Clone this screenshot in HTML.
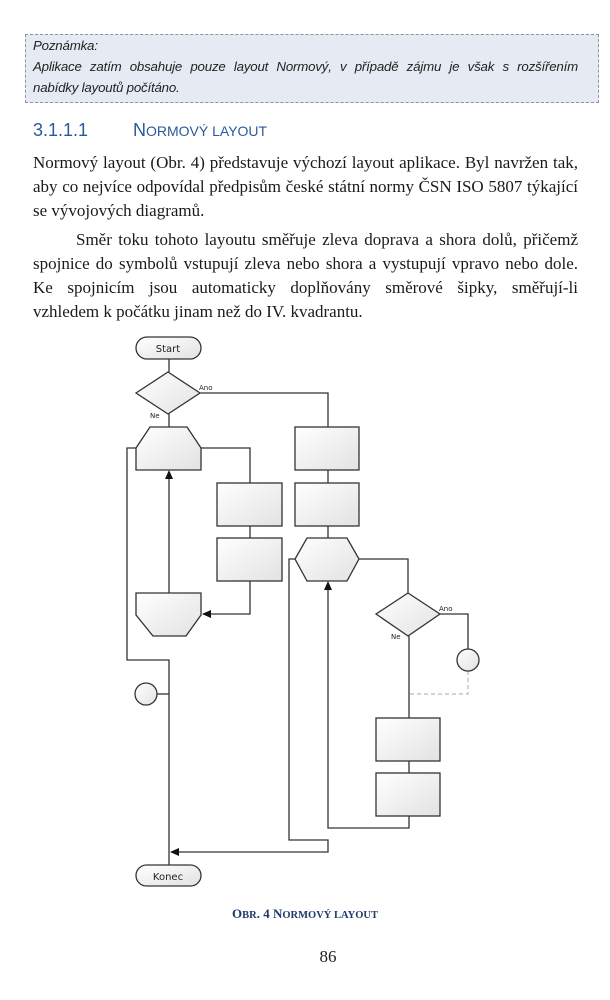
<!DOCTYPE html>
<html><head><meta charset="utf-8"><style>
body{margin:0;width:610px;height:1000px;background:#fff;position:relative;overflow:hidden}
.l{position:absolute;white-space:nowrap}
.j{position:absolute;left:33px;width:545px;text-align:justify;text-align-last:justify;font-family:"Liberation Serif",serif;font-size:17px;color:#1a1a1a;white-space:nowrap;line-height:20px}
.n{position:absolute;left:33px;width:545px;font-family:"Liberation Sans",sans-serif;font-style:italic;font-size:13.3px;color:#222;line-height:18px;letter-spacing:-0.2px}
</style></head><body>
<div style="position:absolute;left:25px;top:34px;width:572px;height:67px;background:#e6ebf3;border:1px dashed #8a93a0"></div>
<div class="n" style="top:37px">Poznámka:</div>
<div class="n" style="top:58px;text-align:justify;text-align-last:justify">Aplikace zatím obsahuje pouze layout Normový, v případě zájmu je však s rozšířením</div>
<div class="n" style="top:79px">nabídky layoutů počítáno.</div>
<div class="l" style="left:33px;top:120px;font-family:'Liberation Sans',sans-serif;font-size:18px;color:#2a5a9a">3.1.1.1</div>
<div class="l" style="left:133px;top:120px;font-family:'Liberation Sans',sans-serif;font-size:18px;color:#2a5a9a">N<span style="font-size:14px">ORMOVÝ LAYOUT</span></div>
<div class="j" style="top:153px">Normový layout (Obr. 4) představuje výchozí layout aplikace. Byl navržen tak,</div>
<div class="j" style="top:177px">aby co nejvíce odpovídal předpisům české státní normy ČSN ISO 5807 týkající</div>
<div class="j" style="top:201px;text-align-last:left">se vývojových diagramů.</div>
<div class="j" style="top:230px;left:76px;width:502px">Směr toku tohoto layoutu směřuje zleva doprava a shora dolů, přičemž</div>
<div class="j" style="top:254px">spojnice do symbolů vstupují zleva nebo shora a vystupují vpravo nebo dole.</div>
<div class="j" style="top:278px">Ke spojnicím jsou automaticky doplňovány směrové šipky, směřují-li</div>
<div class="j" style="top:302px;text-align-last:left">vzhledem k počátku jinam než do IV. kvadrantu.</div>

<svg style="position:absolute;left:0;top:0" width="610" height="1000">
<defs><linearGradient id="g" x1="0" y1="0" x2="1" y2="1"><stop offset="0" stop-color="#fff"/><stop offset="1" stop-color="#e2e2e2"/></linearGradient></defs>
<g fill="none" stroke="#333" stroke-width="1.3">
<line x1="169" y1="359" x2="169" y2="372"/>
<polyline points="200,393 328,393 328,427"/>
<line x1="169" y1="414" x2="169" y2="427"/>
<line x1="328" y1="470" x2="328" y2="483"/>
<line x1="328" y1="526" x2="328" y2="538"/>
<polyline points="201,448 250,448 250,483"/>
<line x1="250" y1="526" x2="250" y2="538"/>
<polyline points="250,581 250,614 203,614"/>
<line x1="169" y1="593" x2="169" y2="478"/>
<polyline points="136,448 127,448 127,660 169,660 169,865"/>
<line x1="157" y1="694" x2="169" y2="694"/>
<polyline points="328,590 328,828 409,828 409,816"/>
<polyline points="295,559 289,559 289,840 328,840 328,852 178,852"/>
<polyline points="359,559 408,559 408,593"/>
<polyline points="440,614 468,614 468,649"/>
<line x1="409" y1="636" x2="409" y2="718"/>
<line x1="409" y1="761" x2="409" y2="773"/>
</g>
<polyline points="468,671 468,694 409,694" fill="none" stroke="#aaa" stroke-width="1" stroke-dasharray="4,3"/>
<g fill="#111">
<polygon points="169,470 165,479 173,479"/>
<polygon points="328,581 324,590 332,590"/>
<polygon points="202,614 211,610 211,618"/>
<polygon points="170,852 179,848 179,856"/>
</g>
<g fill="url(#g)" stroke="#333" stroke-width="1.3">
<rect x="136" y="337" width="65" height="22" rx="11"/>
<polygon points="136,393 168,372 200,393 168,414"/>
<polygon points="150,427 187,427 201,448 201,470 136,470 136,448"/>
<rect x="295" y="427" width="64" height="43"/>
<rect x="295" y="483" width="64" height="43"/>
<rect x="217" y="483" width="65" height="43"/>
<rect x="217" y="538" width="65" height="43"/>
<polygon points="307,538 347,538 359,559 347,581 307,581 295,559"/>
<polygon points="136,593 201,593 201,615 186,636 153,636 136,615"/>
<polygon points="376,614 408,593 440,614 408,636"/>
<circle cx="468" cy="660" r="11"/>
<circle cx="146" cy="694" r="11"/>
<rect x="376" y="718" width="64" height="43"/>
<rect x="376" y="773" width="64" height="43"/>
<rect x="136" y="865" width="65" height="21" rx="10.5"/>
</g>
<g font-family="DejaVu Sans,sans-serif" fill="#222">
<text x="168" y="352" font-size="10" text-anchor="middle">Start</text>
<text x="168" y="880" font-size="10" text-anchor="middle">Konec</text>
<text x="199" y="390" font-size="7">Ano</text>
<text x="150" y="418" font-size="7">Ne</text>
<text x="439" y="611" font-size="7">Ano</text>
<text x="391" y="639" font-size="7">Ne</text>
</g>
<text x="305" y="918" font-family="Liberation Serif,serif" font-weight="bold" font-size="13" fill="#1f3a6a" text-anchor="middle">O<tspan font-size="10.5">BR</tspan>. 4 N<tspan font-size="10.5">ORMOVÝ LAYOUT</tspan></text>
<text x="328" y="962" font-family="Liberation Serif,serif" font-size="17" fill="#222" text-anchor="middle">86</text>
</svg>
</body></html>
